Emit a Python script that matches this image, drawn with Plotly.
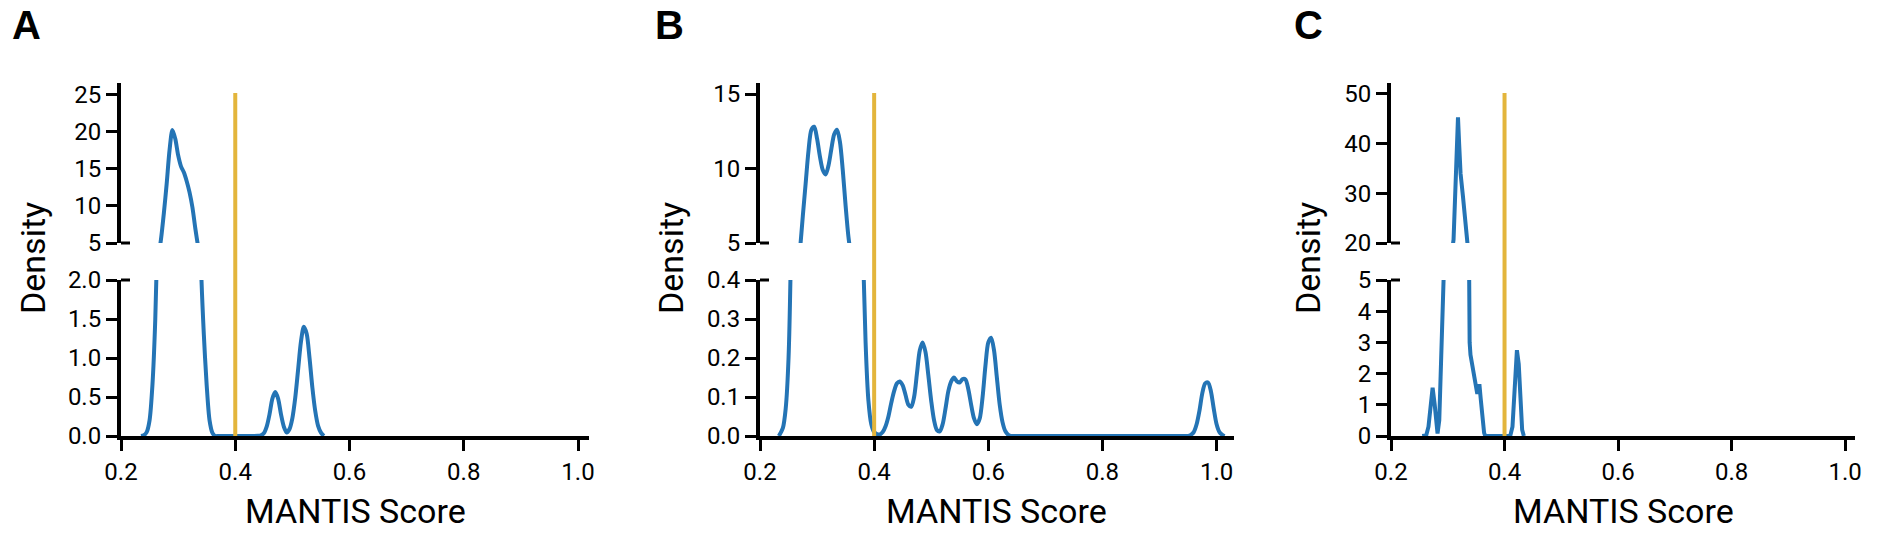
import plotly.graph_objects as go

W, H = 1880, 534

# ---------------- data ----------------
panel_labels = ["A", "B", "C"]
x_ticks = [0.2, 0.4, 0.6, 0.8, 1.0]
x_ticktext = ["0.2", "0.4", "0.6", "0.8", "1.0"]
threshold = 0.4

# Panel A density curve
a_x = [0.235, 0.24, 0.245, 0.25, 0.255, 0.26, 0.265, 0.27, 0.275, 0.28, 0.285, 0.29, 0.295,
       0.30, 0.305, 0.31, 0.315, 0.32, 0.325, 0.33, 0.335, 0.34, 0.345, 0.35, 0.355, 0.36,
       0.365, 0.37, 0.40, 0.43, 0.44, 0.445, 0.45, 0.455, 0.46, 0.465, 0.47, 0.475, 0.48,
       0.485, 0.49, 0.495, 0.50, 0.505, 0.51, 0.515, 0.52, 0.525, 0.53, 0.535, 0.54, 0.545,
       0.55, 0.555]
a_y = [0.0, 0.01, 0.05, 0.2, 0.65, 1.5, 3.0, 5.5, 9.0, 13.0, 17.5, 20.2, 19.0,
       16.8, 15.3, 14.5, 13.3, 11.8, 9.8, 7.0, 4.5, 2.2, 1.3, 0.65, 0.2, 0.04,
       0.0, 0.0, 0.0, 0.0, 0.003, 0.01, 0.035, 0.12, 0.28, 0.48, 0.565, 0.48, 0.28,
       0.12, 0.045, 0.09, 0.23, 0.49, 0.85, 1.21, 1.40, 1.31, 1.0, 0.62, 0.32, 0.13,
       0.043, 0.0]

# Panel B density curve
b_x = [0.233, 0.24, 0.245, 0.25, 0.255, 0.26, 0.265, 0.27, 0.275, 0.28, 0.285, 0.29, 0.295,
       0.30, 0.305, 0.31, 0.315, 0.32, 0.325, 0.33, 0.335, 0.34, 0.345, 0.35, 0.355, 0.36,
       0.365, 0.37, 0.375, 0.38, 0.385, 0.39, 0.395, 0.40, 0.405, 0.41, 0.415, 0.42, 0.425,
       0.43, 0.435, 0.44, 0.445, 0.45, 0.455, 0.46, 0.465, 0.47, 0.475, 0.48, 0.485, 0.49,
       0.495, 0.50, 0.505, 0.51, 0.515, 0.52, 0.525, 0.53, 0.535, 0.54, 0.545, 0.55, 0.555,
       0.56, 0.565, 0.57, 0.575, 0.58, 0.585, 0.59, 0.595, 0.60, 0.605, 0.61, 0.615, 0.62,
       0.625, 0.63, 0.635, 0.64, 0.65, 0.80, 0.94, 0.95, 0.955, 0.96, 0.965, 0.97, 0.975,
       0.98, 0.985, 0.99, 0.995, 1.0, 1.005, 1.01, 1.014]
b_y = [0.0, 0.02, 0.07, 0.2, 0.55, 1.3, 2.6, 4.5, 6.8, 9.0, 11.2, 12.6, 12.8,
       12.0, 10.8, 9.9, 9.6, 10.2, 11.3, 12.3, 12.6, 11.8, 9.9, 7.5, 5.4, 4.0,
       2.7, 1.7, 1.0, 0.52, 0.24, 0.09, 0.03, 0.01, 0.005, 0.004, 0.01, 0.025, 0.05,
       0.085, 0.115, 0.135, 0.14, 0.13, 0.105, 0.08, 0.075, 0.1, 0.16, 0.22, 0.24, 0.215,
       0.155, 0.09, 0.04, 0.015, 0.012, 0.03, 0.07, 0.115, 0.14, 0.15, 0.14, 0.137, 0.146,
       0.145, 0.12, 0.08, 0.045, 0.03, 0.045, 0.1, 0.18, 0.24, 0.252, 0.22, 0.15, 0.08,
       0.035, 0.012, 0.003, 0.0, 0.0, 0.0, 0.0, 0.0, 0.003, 0.01, 0.03, 0.065, 0.11,
       0.135, 0.137, 0.115, 0.07, 0.03, 0.01, 0.003, 0.0]

# Panel C density curve
c_x = [0.255, 0.262, 0.266, 0.27, 0.2733, 0.277, 0.28, 0.282, 0.285, 0.288, 0.29, 0.2926,
       0.296, 0.30, 0.305, 0.3102, 0.313, 0.3155, 0.3166, 0.318, 0.32, 0.3225, 0.3268,
       0.3326, 0.335, 0.3367, 0.3385, 0.34, 0.3455, 0.35, 0.352, 0.354, 0.356, 0.358,
       0.361, 0.364, 0.366, 0.41, 0.414, 0.418, 0.4218, 0.425, 0.428, 0.431, 0.434]
c_y = [0.0, 0.02, 0.3, 1.2, 1.55, 1.0, 0.3, 0.08, 0.5, 2.0, 3.5, 5.0,
       8.5, 12.0, 16.0, 20.7, 28.0, 38.0, 40.0, 45.3, 40.0, 34.0, 29.3,
       20.0, 12.0, 4.9, 3.0, 2.6, 2.05, 1.7, 1.35, 1.6, 1.6, 1.2,
       0.5, 0.1, 0.0, 0.0, 0.3, 1.6, 2.75, 2.3, 1.0, 0.2, 0.0]

# axis ticks for the broken y-axes
a_low_ticks = [0.0, 0.5, 1.0, 1.5, 2.0]
a_low_text = ["0.0", "0.5", "1.0", "1.5", "2.0"]
a_up_ticks = [5, 10, 15, 20, 25]
b_low_ticks = [0.0, 0.1, 0.2, 0.3, 0.4]
b_low_text = ["0.0", "0.1", "0.2", "0.3", "0.4"]
b_up_ticks = [5, 10, 15]
c_low_ticks = [0, 1, 2, 3, 4, 5]
c_low_text = ["0", "1", "2", "3", "4", "5"]
c_up_ticks = [20, 30, 40, 50]

# ---------------- layout geometry ----------------
BLUE = "#2474b5"
GOLD = "#e3b53c"
FONT = "Roboto, Arial, sans-serif"

def px_x(p):
    return p / W

def px_y(p):
    return 1 - p / H

Y_LOW = [px_y(436), px_y(280)]
Y_UP = [px_y(243), px_y(83)]

panels = [
    dict(label="A", x=a_x, y=a_y, spline=True, xdom=(121, 589), xr=[0.2, 1.0192],
         low=[0, 2.0], lowt=a_low_ticks, lowtt=a_low_text,
         up=[5, 26.5], upt=a_up_ticks, lab_x=10, dens_x=33),
    dict(label="B", x=b_x, y=b_y, spline=True, xdom=(760, 1234), xr=[0.2, 1.0305],
         low=[0, 0.4], lowt=b_low_ticks, lowtt=b_low_text,
         up=[5, 15.74], upt=b_up_ticks, lab_x=653, dens_x=671),
    dict(label="C", x=c_x, y=c_y, spline=False, xdom=(1391, 1855), xr=[0.2, 1.0173],
         low=[0, 5], lowt=c_low_ticks, lowtt=c_low_text,
         up=[20, 52.2], upt=c_up_ticks, lab_x=1292, dens_x=1308),
]

fig = go.Figure()
layout = dict(
    template="none",
    width=W, height=H, margin=dict(l=0, r=0, t=0, b=0, pad=0, autoexpand=False),
    paper_bgcolor="white", plot_bgcolor="white", showlegend=False,
    font=dict(family=FONT, color="black"),
)
shapes = []
annotations = []

tickfont = dict(family=FONT, size=24, color="black")
common = dict(automargin=False, showgrid=False, zeroline=False)

for i, p in enumerate(panels):
    xl = 2 * i + 1   # lower axes id
    xu = 2 * i + 2   # upper axes id
    xl_name = "x" if xl == 1 else f"x{xl}"
    yl_name = "y" if xl == 1 else f"y{xl}"
    xu_name = f"x{xu}"
    yu_name = f"y{xu}"
    if p["spline"]:
        line = dict(color=BLUE, width=4, shape="spline", smoothing=0.8)
    else:
        line = dict(color=BLUE, width=4, shape="linear")
    fig.add_trace(go.Scatter(x=p["x"], y=p["y"], mode="lines", line=line,
                             xaxis=xl_name, yaxis=yl_name, hoverinfo="skip"))
    fig.add_trace(go.Scatter(x=p["x"], y=p["y"], mode="lines", line=line,
                             xaxis=xu_name, yaxis=yu_name, hoverinfo="skip"))
    xdom = [px_x(p["xdom"][0]), px_x(p["xdom"][1])]
    layout[f"xaxis{xl}"] = dict(
        domain=xdom, range=p["xr"], anchor=yl_name,
        showline=True, linecolor="black", linewidth=4,
        ticks="outside", ticklen=11, tickwidth=3, tickcolor="black",
        tickvals=x_ticks, ticktext=x_ticktext, tickfont=tickfont, **common,
    )
    layout[f"yaxis{xl}"] = dict(
        domain=Y_LOW, range=p["low"], anchor=xl_name,
        showline=True, linecolor="black", linewidth=4,
        ticks="outside", ticklen=11, tickwidth=3, tickcolor="black",
        tickvals=p["lowt"], ticktext=p["lowtt"], tickfont=tickfont, **common,
    )
    layout[f"xaxis{xu}"] = dict(
        domain=xdom, range=p["xr"], anchor=yu_name, visible=False, **common,
    )
    layout[f"yaxis{xu}"] = dict(
        domain=Y_UP, range=p["up"], anchor=xu_name,
        showline=True, linecolor="black", linewidth=4,
        ticks="outside", ticklen=11, tickwidth=3, tickcolor="black",
        tickvals=p["upt"], tickfont=tickfont, **common,
    )
    # threshold line spanning both segments
    shapes.append(dict(type="line", xref=xl_name, yref="paper",
                       x0=threshold, x1=threshold, y0=px_y(436), y1=px_y(93),
                       line=dict(color=GOLD, width=4), layer="above"))
    # end caps of the break
    ax0 = px_x(p["xdom"][0])
    for yy in (280, 243):
        shapes.append(dict(type="line", xref="paper", yref="paper",
                           x0=ax0, x1=ax0 + 9 / W, y0=px_y(yy), y1=px_y(yy),
                           line=dict(color="black", width=3)))
    # labels
    annotations.append(dict(text=f"<b>{p['label']}</b>", xref="paper", yref="paper",
                            x=px_x(p["lab_x"]), y=px_y(1), xanchor="left", yanchor="top",
                            showarrow=False, font=dict(family="Liberation Sans, Arial", size=40)))
    annotations.append(dict(text="Density", xref="paper", yref="paper",
                            x=px_x(p["dens_x"]), y=px_y(258), xanchor="center", yanchor="middle",
                            textangle=-90, showarrow=False, font=dict(family=FONT, size=34)))
    annotations.append(dict(text="MANTIS Score", xref="paper", yref="paper",
                            x=(xdom[0] + xdom[1]) / 2, y=px_y(533), xanchor="center", yanchor="bottom",
                            showarrow=False, font=dict(family=FONT, size=34)))

layout["shapes"] = shapes
layout["annotations"] = annotations
fig.update_layout(**layout)
fig.write_html("out.html")
